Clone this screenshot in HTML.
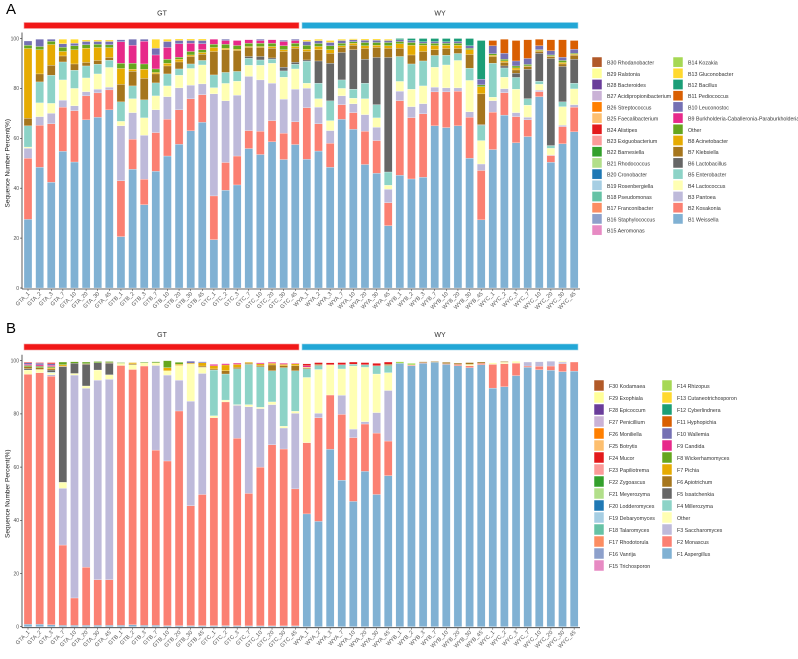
<!DOCTYPE html>
<html><head><meta charset="utf-8"><style>
body{margin:0;background:#fff}
svg text{font-family:"Liberation Sans",sans-serif}
</style></head><body>
<svg id="c" width="798" height="654" xmlns="http://www.w3.org/2000/svg"></svg>
<script>
const samples=["GTA_1","GTA_2","GTA_3","GTA_7","GTA_10","GTA_20","GTA_30","GTA_45","GTB_1","GTB_2","GTB_3","GTB_7","GTB_10","GTB_20","GTB_30","GTB_45","GTC_1","GTC_2","GTC_3","GTC_7","GTC_10","GTC_20","GTC_30","GTC_45","WYA_1","WYA_2","WYA_3","WYA_7","WYA_10","WYA_20","WYA_30","WYA_45","WYB_1","WYB_2","WYB_3","WYB_7","WYB_10","WYB_20","WYB_30","WYB_45","WYC_1","WYC_2","WYC_3","WYC_7","WYC_10","WYC_20","WYC_30","WYC_45"];
const yTicks=[0,20,40,60,80,100];
const z8=[0,0,0,0,0,0,0,0];
// Panel A (bacteria)
const aB1=[27.5,48.4,42.4,54.8,50.5,67.4,68.4,71.4,20.6,47.6,33.4,46.8,52.9,57.6,63,66.4,19.4,39.2,41.3,55.9,53.5,58.6,51.5,57.5,51.6,54.9,48.4,67.6,63.6,49.5,46,25,45.2,43.7,44.4,65,64.3,65,52,27.3,55.5,69.3,58.2,60.7,76.7,50.4,57.8,62.6];
const aB2=[24.5,16.8,23.4,17.7,20.6,9.6,9.8,8,22.4,12,10.2,15.5,14.7,13.8,12.8,11.1,17.5,11.1,11.6,7.2,9.3,8.5,10.5,9.1,20.7,10.9,9.6,5.9,6.7,13.3,13.1,9.2,29.9,24.6,25.4,13.6,14.3,13.9,16.4,19.8,15,9,10.5,6.7,2,2.7,6.9,9.9];
const aB3=[4,3.5,4.2,2.8,1.9,1.7,1.5,1.1,22,10.7,17.6,9.1,9.1,8.8,5.5,4.3,40.9,24.7,24.4,21.7,20.6,15,13.7,13.1,7.8,6.7,5.1,3.5,3.5,6.7,5.3,5.4,3.8,4.4,4.1,1.9,1.6,1.3,2.2,2.6,4.6,1.6,1.6,1,.6,.2,.5,1];
const aB4=[.5,5.5,4,8.1,7,5.5,6.1,7.9,1.8,5.6,7,5.6,4.3,5.1,6.7,7.6,2.5,7,5.6,4.5,5.9,8,8.8,8.1,2,3.4,4,3,2.3,6.4,3.8,1.6,3.9,7,7.1,8,9.2,11,12.6,9.4,1.4,4.6,9.4,4.9,2.4,2.7,7.5,6.3];
const aB5=[8.5,8.4,11.3,7.2,7.3,4.8,3.9,2.9,7.8,5.1,7.2,5.2,4.8,2.5,1.8,1.8,5.1,4.4,3.9,2.8,2.1,1.6,2.5,1.9,8.8,6.2,7.9,3.4,3.6,6.2,5.3,5.3,10,10.1,10,4.7,3.9,2.8,4.9,6.1,13.6,3.7,4.7,2.6,1.2,1.1,1.9,2.3];
const aB6=[0,0,0,0,0,0,0,0,0,0,0,0,0,0,0,0,0,0,0,.7,1.4,.5,1.5,.8,.5,8.9,15.1,11,15.8,9.6,18.9,45.9,0,0,0,0,0,0,0,.3,0,.8,1.7,11.8,11.2,34.9,14.2,9.6];
const aB7=[3,3.2,4,2.4,2.5,1.4,1.5,1.1,7,5.9,8.6,3.6,3.2,2.8,3,2.5,9.4,9.1,8.4,3.6,3.6,3.9,6.3,5.6,3.4,4.5,4,2,1.8,4.3,4,3.7,3.3,3.6,3.8,2.3,2.7,2,5.5,12.3,2.7,1.4,1.3,1.1,.7,.8,1,1.6];
const aB8=[28,9.7,8.3,1.8,5.7,5.7,5.2,3.9,6.4,.8,3.7,.6,1.1,1.1,.6,.7,1.6,.6,.5,.4,.4,.7,.7,.7,.9,1.3,1.4,.7,.8,1.1,.9,1,1.8,3.9,2.5,1.7,1.3,1.3,1.9,2.9,.5,.6,.8,.2,.4,.2,.6,.4];
const aOther=[1.3,1.3,1.3,1.7,1.6,1.4,1.3,1.2,2.1,2.4,2.1,1.4,1.6,.8,1.4,1.1,1.3,1.6,1.5,1.3,1.3,1.3,1.6,1.3,1.6,1.2,1.6,1,.6,1.3,1.1,1.3,.9,1.1,.8,.9,.8,.8,.6,.7,.6,.7,.8,.6,.3,.4,.8,.4];
const aB9=[0,0,0,0,0,0,0,0,8.6,7.2,9.1,5.6,4.7,5.4,3.3,2.4,2,1.5,2,1.4,1.1,1.4,1.7,1.1,...z8,...z8,...z8];
const aB10=[1.7,2.9,.8,1.4,1,1.3,1.1,1.3,.8,2.4,.8,2.7,2.4,1.3,1.1,1.3,0,.5,0,0,.5,0,.5,.5,1.5,1.1,1.3,1.1,.8,.9,.9,.8,.7,.8,.6,.7,.6,.7,1,2.3,3.2,2.4,2,2.4,1.6,1.7,1.3,1.6];
const aB11=[...z8,...z8,...z8,...z8,...z8,2.1,5.6,8.2,7.5,2.6,4.4,7,3.5];
const aB12=[...z8,...z8,...z8,...z8,.5,.8,1.3,1.2,1.3,1.2,2.9,15.5,...z8];
const aB13=[0,0,0,1.8,1.6,.6,.6,.6,0,0,0,3.6,.9,.6,.6,.6,...z8,.6,.6,.8,.5,.4,.5,.5,.5,...z8,...z8];
const aSeries=[aB1,aB2,aB3,aB4,aB5,aB6,aB7,aB8,aOther,aB9,aB10,aB11,aB12,aB13];
const aColors=["#80b1d3","#fb8072","#bebada","#ffffb3","#8dd3c7","#666666","#a6761d","#e6ab02","#66a61e","#e7298a","#7570b3","#d95f02","#1b9e77","#ffd92f"];
const aNames=["b1","b2","b3","b4","b5","b6","b7","b8","other","b9","b10","b11","b12","b13"];
// Panel B (fungi)
const bF1=[.9,.9,.7,.5,.5,.5,.5,.5,.5,.7,.5,.5,.4,.4,.4,.4,.4,.4,.4,.3,.3,.3,.3,.3,42.4,39.6,66.7,55.1,47.1,58.4,49.7,56.8,99,98.1,99,99.4,98.6,98.1,97.4,98.5,89.7,90.2,94.4,97.5,96.6,96.4,95.9,96.1];
const bF2=[94,94.6,93.5,30.2,10.3,21.9,17.2,17.2,97.7,96,97.5,65.9,61.9,80.7,45.1,49.3,78.2,84.1,70.4,49.8,59.7,68.1,66.5,51.5,26.8,39,20.4,24.7,24,17.8,23.1,13,0,.3,.3,0,.3,.5,.7,.5,8.9,8.7,4.7,.5,1.3,1.6,3,3.4];
const bF3=[0,0,.5,21.3,83.8,67.2,75,75.3,0,0,0,31.8,32.3,11.6,39.3,45.5,0,0,12.4,32.6,22,15.1,7.9,28.4,0,1.6,0,7.2,3.2,.9,7.7,19,...z8,0,0,0,1.5,1.7,1.8,.6,0];
const bOther=[1.6,1.2,.7,2.3,.6,.9,3.8,1.7,.8,1.8,1.2,1,1.6,5.5,13.9,2.3,.7,.7,.3,.8,.5,1,.7,.8,24.5,16.5,11.4,9.9,23.7,20.4,14.5,6.7,0,0,0,0,0,0,.5,0,.6,.5,.7,0,0,0,.3,0];
const bF4=[0,0,.3,0,0,0,0,0,...z8,17.2,9.8,13.5,15.1,15.2,11.7,22,15.2,3.3,1.5,0,1.6,.7,1,3.1,2.7,...z8,...z8];
const bF5=[.5,0,.8,43.4,3.8,8.1,2.7,4.3,...z8,...z8,...z8,...z8,...z8];
const bF6=[.7,.7,.5,.3,0,.3,0,.3,0,.3,0,0,0,0,0,.5,.4,1.2,.5,.4,.5,2.2,.7,1.9,.3,.4,0,0,0,0,0,.5,0,0,.3,.3,.5,.5,.7,.5,0,.3,0,0,0,0,0,0];
const bF7=[0,0,.3,.5,0,0,0,0,0,.5,0,0,1.2,.5,.4,1.2,1.2,2.2,1.1,.4,.6,.6,.5,.7,.3,0,0,0,0,0,0,0,...z8,...z8];
const bF8=[.5,.5,.5,1,.6,.6,.5,.4,.3,0,.3,.4,2.6,.7,0,0,...z8,...z8,...z8,...z8];
const bF9=[.5,.5,.5,0,0,0,0,0,...z8,.5,.5,.5,0,.4,.4,.4,.3,.5,0,0,0,0,0,0,0,...z8,...z8];
const bF10=[.5,.6,.5,0,0,0,0,0,0,0,0,0,0,0,.7,.4,...z8,...z8,...z8,...z8];
const bF24=[.3,.3,.5,0,0,0,0,0,...z8,...z8,.7,.7,.7,.8,.8,.8,.9,.8,...z8,...z8];
const bF14=[...z8,...z8,...z8,...z8,.6,.6,0,0,0,0,0,0,...z8];
const bSeries=[bF1,bF2,bF3,bOther,bF4,bF5,bF6,bF7,bF8,bF9,bF10,bF24,bF14];
const bColors=["#80b1d3","#fb8072","#bebada","#ffffb3","#8dd3c7","#666666","#a6761d","#e6ab02","#66a61e","#e7298a","#7570b3","#e31a1c","#a6d854"];
const bNames=["f1","f2","f3","other","f4","f5","f6","f7","f8","f9","f10","f24","f14"];
const legA1=["B30 Rhodanobacter","B29 Ralstonia","B28 Bacteroides","B27 Acidipropionibacterium","B26 Streptococcus","B25 Faecalibacterium","B24 Alistipes","B23 Exiguobacterium","B22 Barnesiella","B21 Rhodococcus","B20 Cronobacter","B19 Rosenbergiella","B18 Pseudomonas","B17 Franconibacter","B16 Staphylococcus","B15 Aeromonas"];
const legA2=["B14 Kozakia","B13 Gluconobacter","B12 Bacillus","B11 Pediococcus","B10 Leuconostoc","B9 Burkholderia-Caballeronia-Paraburkholderia","Other","B8 Acinetobacter","B7 Klebsiella","B6 Lactobacillus","B5 Enterobacter","B4 Lactococcus","B3 Pantoea","B2 Kosakonia","B1 Weissella"];
const legB1=["F30 Kodamaea","F29 Exophiala","F28 Epicoccum","F27 Penicillium","F26 Moniliella","F25 Botrytis","F24 Mucor","F23 Papiliotrema","F22 Zygoascus","F21 Meyerozyma","F20 Lodderomyces","F19 Debaryomyces","F18 Talaromyces","F17 Rhodotorula","F16 Vanrija","F15 Trichosporon"];
const legB2=["F14 Rhizopus","F13 Cutaneotrichosporon","F12 Cyberlindnera","F11 Hyphopichia","F10 Wallemia","F9 Candida","F8 Wickerhamomyces","F7 Pichia","F6 Apiotrichum","F5 Issatchenkia","F4 Millerozyma","Other","F3 Saccharomyces","F2 Monascus","F1 Aspergillus"];
const col1Colors=["#b15928","#ffff99","#6a3d9a","#cab2d6","#ff7f00","#fdbf6f","#e31a1c","#fb9a99","#33a02c","#b2df8a","#1f78b4","#a6cee3","#66c2a5","#fc8d62","#8da0cb","#e78ac3"];
const col2ColorsA=["#a6d854","#ffd92f","#1b9e77","#d95f02","#7570b3","#e7298a","#66a61e","#e6ab02","#a6761d","#666666","#8dd3c7","#ffffb3","#bebada","#fb8072","#80b1d3"];
const col2ColorsB=["#a6d854","#ffd92f","#1b9e77","#d95f02","#7570b3","#e7298a","#66a61e","#e6ab02","#a6761d","#666666","#8dd3c7","#ffffb3","#bebada","#fb8072","#80b1d3"];

const svg=document.getElementById('c');const NS="http://www.w3.org/2000/svg";
function mk(tag,attrs,parent){const e=document.createElementNS(NS,tag);for(const k in attrs)e.setAttribute(k,attrs[k]);(parent||svg).appendChild(e);return e;}
function xPos(i){return 28+i*11.62;}

function panel(p){
  const g=mk('g',{});
  
  
  const yS=v=>p.y0-(p.y0-p.y100)*v/100;
  const t=mk('text',{x:6,y:p.lblY,'font-size':15},g);t.textContent=p.id;
  
  
  // strips
  const s1=mk('rect',{x:24,y:p.stripY,width:275,height:6,fill:'#f11818',stroke:'#f7a0a0','stroke-width':0.6},g);
  
  
  const s2=mk('rect',{x:302,y:p.stripY,width:276,height:6,fill:'#22a7d6',stroke:'#9dd6ea','stroke-width':0.6},g);
  
  
  const l1=mk('text',{x:162,y:p.stripY-7,'font-size':7,'text-anchor':'middle',fill:'#333'},g);l1.textContent='GT';
  
  
  const l2=mk('text',{x:440,y:p.stripY-7,'font-size':7,'text-anchor':'middle',fill:'#333'},g);l2.textContent='WY';
  
  
  // axes
  const ax=mk('line',{x1:22,y1:p.y100-6,x2:22,y2:p.y0+1,stroke:'#333','stroke-width':0.8},g);
  
  
  yTicks.forEach(v=>{
    mk('line',{x1:20,x2:22,y1:yS(v),y2:yS(v),stroke:'#333','stroke-width':0.6},g);
    const tt=mk('text',{x:19,y:yS(v)+1.8,'font-size':5,'text-anchor':'end',fill:'#4d4d4d'},g);tt.textContent=v;
    
    
  });
  const yt=mk('text',{x:0,y:0,'font-size':6.5,'text-anchor':'middle',fill:'#222',transform:`translate(9.5,${(p.y0+p.y100)/2}) rotate(-90)`},g);
  yt.textContent='Sequence Number Percent(%)';
  
  
  // bars
  samples.forEach((s,i)=>{
    let cum=0;
    p.series.forEach((ser,k)=>{
      const v=ser[i];if(!v)return;
      const r=mk('rect',{x:xPos(i)-4,y:yS(cum+v),width:8,height:yS(cum)-yS(cum+v),fill:p.colors[k],stroke:'#fff','stroke-width':0.25},g);
      
      
      cum+=v;
    });
    mk('line',{x1:xPos(i),x2:xPos(i),y1:p.y0+1,y2:p.y0+3,stroke:'#333','stroke-width':0.5},g);
    const xl=mk('text',{x:0,y:0,'font-size':5.6,'text-anchor':'end',fill:'#555',transform:`translate(${xPos(i)+2},${p.y0+6}) rotate(-45)`},g);
    xl.textContent=s;
    
    
  });
  const xa=mk('line',{x1:22,y1:p.y0+1,x2:580,y2:p.y0+1,stroke:'#333','stroke-width':0.8},g);
  
  
  // legend
  const lg=mk('g',{},g);
  
  
  function col(list,colors,kx,tx){
    list.forEach((n,j)=>{
      const yy=p.legY+j*p.legStep;
      const r=mk('rect',{x:kx,y:yy,width:10,height:p.legStep-1,fill:colors[j],stroke:'#fff','stroke-width':0.5},lg);
      
      
      const t=mk('text',{x:tx,y:yy+p.legStep/2+2,'font-size':5.3,fill:'#333'},lg);t.textContent=n;
      
      
    });
  }
  col(p.leg1,col1Colors,p.k1,p.k1+15);
  col(p.leg2,p.col2,p.k2,p.k2+15);
}
panel({id:'A',lblY:14,stripY:22.5,y100:38.5,y0:288,series:aSeries,colors:aColors,names:aNames,leg1:legA1,leg2:legA2,col2:col2ColorsA,legY:57,legStep:11.2,k1:592,k2:673});
panel({id:'B',lblY:333,stripY:344,y100:360.7,y0:626.7,series:bSeries,colors:bColors,names:bNames,leg1:legB1,leg2:legB2,col2:col2ColorsB,legY:380,legStep:12,k1:594,k2:662});
</script>
</body></html>
